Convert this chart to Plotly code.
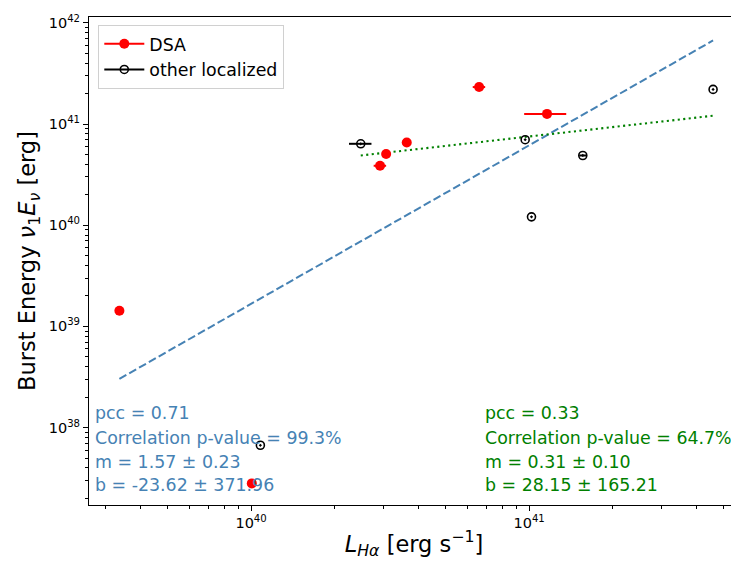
import numpy as np
import plotly.graph_objects as go

# ---------------- data ----------------
dsa_x = [3.36e39, 1.006e40, 2.91e40, 3.06e40, 3.63e40, 6.61e40, 1.16e41]
dsa_y = [1.43e39, 2.81e37, 3.87e40, 5.05e40, 6.58e40, 2.32e41, 1.26e41]
dsa_xerr_lo = [0.0, 0.0, 1.5e39, 0.0, 0.0, 3.4e39, 2.0e40]
dsa_xerr_hi = [0.0, 0.0, 1.5e39, 0.0, 0.0, 3.4e39, 2.0e40]

oth_x = [2.48e40, 9.68e40, 1.02e41, 1.56e41, 4.59e41, 1.08e40]
oth_y = [6.38e40, 7.0e40, 1.21e40, 4.89e40, 2.20e41, 6.69e37]
oth_xerr_lo = [2.3e39, 0.0, 0.0, 4.5e39, 0.0, 0.0]
oth_xerr_hi = [2.3e39, 0.0, 0.0, 4.5e39, 0.0, 0.0]

# fits (log10 y = m log10 x + b)
fit_all_m, fit_all_b = 1.5665, -23.437
fit_sub_m, fit_sub_b = 0.31, 28.167
fit_sub_xstart = 2.48e40

blue_text = ["pcc = 0.71", "Correlation p-value = 99.3%", "m = 1.57 \u00b1 0.23", "b = -23.62 \u00b1 371.96"]
green_text = ["pcc = 0.33", "Correlation p-value = 64.7%", "m = 0.31 \u00b1 0.10", "b = 28.15 \u00b1 165.21"]

xtick_decades = [39, 40, 41, 42]
ytick_decades = [37, 38, 39, 40, 41, 42]

# ---------------- figure ----------------
FONT = "DejaVu Sans"
OFF = 8  # default page body margin
W, H = 739 - OFF, 565 - OFF
ml, mr, mt, mb = 89 - OFF, 0, 17 - OFF, 60
pw, ph = W - ml - mr, H - mt - mb
# page-pixel -> paper helpers (reference pixel coords)
def px(xp):
    return (xp - 89) / pw
def py(yp):
    return (505 - yp) / ph

all_x = dsa_x + oth_x
xmin, xmax = min(all_x), max(all_x)
lx = np.array([np.log10(xmin), np.log10(xmax)])
blue_x = 10 ** lx
blue_y = 10 ** (fit_all_m * lx + fit_all_b)
lg = np.array([np.log10(fit_sub_xstart), np.log10(xmax)])
green_x = 10 ** lg
green_y = 10 ** (fit_sub_m * lg + fit_sub_b)

fig = go.Figure()

fig.add_trace(go.Scatter(x=blue_x, y=blue_y, mode="lines", showlegend=False,
                         line=dict(color="#4682B4", width=2, dash="8px,3.3px")))
fig.add_trace(go.Scatter(x=green_x, y=green_y, mode="lines", showlegend=False,
                         line=dict(color="green", width=2.1, dash="2.1px,3.4px")))

fig.add_trace(go.Scatter(
    x=dsa_x, y=dsa_y, mode="markers", showlegend=False,
    marker=dict(color="red", size=10, symbol="circle", line=dict(width=0)),
    error_x=dict(type="data", symmetric=False, array=dsa_xerr_hi, arrayminus=dsa_xerr_lo,
                 color="red", thickness=2, width=0)))
fig.add_trace(go.Scatter(
    x=oth_x, y=oth_y, mode="markers", showlegend=False,
    marker=dict(color="black", size=8, symbol="circle-open-dot", line=dict(width=1.6, color="black")),
    error_x=dict(type="data", symmetric=False, array=oth_xerr_hi, arrayminus=oth_xerr_lo,
                 color="black", thickness=2, width=0)))

# legend-only traces
fig.add_trace(go.Scatter(x=[None], y=[None], mode="lines+markers", name="DSA",
                         marker=dict(color="red", size=10, symbol="circle"),
                         line=dict(color="red", width=2)))
fig.add_trace(go.Scatter(x=[None], y=[None], mode="lines+markers", name="other localized",
                         marker=dict(color="black", size=8, symbol="circle-open",
                                     line=dict(width=1.6, color="black")),
                         line=dict(color="black", width=2)))

line_y = [413.3, 437.7, 461.7, 485.0]
for i, t in enumerate(blue_text):
    fig.add_annotation(x=px(93.3), y=py(line_y[i]), xref="paper", yref="paper",
                       text=t, showarrow=False, xanchor="left", yanchor="middle",
                       font=dict(family=FONT, size=17.4, color="#4682B4"))
for i, t in enumerate(green_text):
    fig.add_annotation(x=px(482.7), y=py(line_y[i]), xref="paper", yref="paper",
                       text=t, showarrow=False, xanchor="left", yanchor="middle",
                       font=dict(family=FONT, size=17.4, color="green"))

def minor_vals(decs):
    out = []
    for d in decs:
        for k in range(2, 10):
            out.append(k * 10.0 ** d)
    return out

axis_common = dict(type="log", showgrid=False, zeroline=False, showline=True, linecolor="black",
                   linewidth=1.1, ticks="outside", ticklen=5, tickwidth=1.1, tickcolor="black",
                   tickfont=dict(family=FONT, size=14.5, color="black"),
                   minor=dict(ticks="outside", ticklen=2.8, tickwidth=0.8, tickcolor="black",
                              tickmode="array", showgrid=False))

fig.update_xaxes(**axis_common, range=[39.417, 41.755], mirror=True,
                 tickmode="array", tickvals=[10.0 ** d for d in xtick_decades],
                 ticktext=["10<sup>%d</sup>" % d for d in xtick_decades],
                 title=dict(text="<i>L</i><sub><i>H\u03b1</i></sub> [erg s<sup>\u22121</sup>]",
                            font=dict(family=FONT, size=22.5, color="black"), standoff=5))
fig.update_xaxes(minor_tickvals=minor_vals(xtick_decades))
fig.update_yaxes(**axis_common, range=[37.235, 42.058], mirror=False,
                 tickmode="array", tickvals=[10.0 ** d for d in ytick_decades],
                 ticktext=["10<sup>%d</sup>" % d for d in ytick_decades],
                 title=dict(text="Burst Energy <i>\u03bd</i><sub>1</sub><i>E</i><sub><i>\u03bd</i></sub> [erg]",
                            font=dict(family=FONT, size=22.5, color="black"), standoff=6))
fig.update_yaxes(minor_tickvals=minor_vals(ytick_decades))

fig.update_layout(
    width=W, height=H, margin=dict(l=ml, r=mr, t=mt, b=mb, autoexpand=False),
    paper_bgcolor="white", plot_bgcolor="white",
    font=dict(family=FONT, color="black"),
    legend=dict(x=px(98.3), y=py(25), xanchor="left", yanchor="top",
                bgcolor="rgba(255,255,255,0.8)", bordercolor="#d0d0d0", borderwidth=1,
                font=dict(family=FONT, size=17.4, color="black"), itemwidth=40,
                tracegroupgap=0),
)

fig.write_html("out.html")
